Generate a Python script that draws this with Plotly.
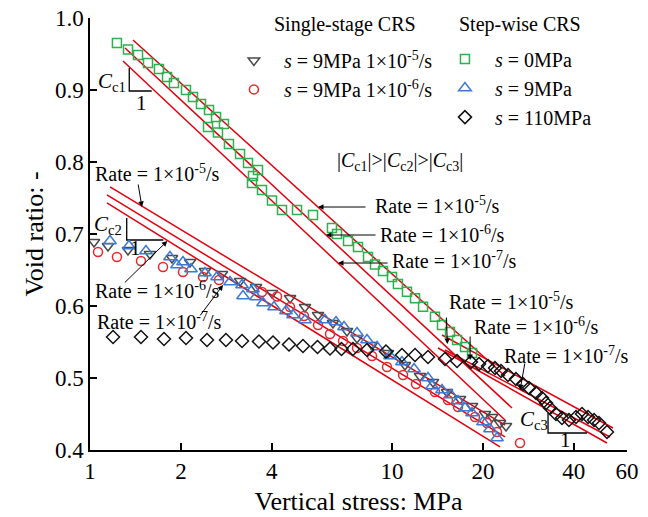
import numpy as np
import plotly.graph_objects as go

FONT = "Liberation Serif"

# ---- measured e-log(sigma) data (vertical stress in MPa, void ratio) ----
# Single-stage CRS, s = 9 MPa, 1e-5/s
ss5_stress = [1.031, 1.147, 1.336, 1.580, 1.869, 2.144, 2.403, 2.736, 3.139, 3.546,
              4.005, 4.596, 5.151, 5.689, 6.377, 7.096, 7.658, 8.587, 9.700, 11.04,
              12.38, 13.67, 15.21, 16.80, 18.41, 20.32, 21.44, 22.79, 23.85]
ss5_void = [0.6889, 0.6833, 0.6778, 0.6722, 0.6667, 0.6611, 0.6486, 0.6444, 0.6347, 0.6264,
            0.6181, 0.6111, 0.5986, 0.5875, 0.5764, 0.5653, 0.5556, 0.5458, 0.5347, 0.5181,
            0.5028, 0.4944, 0.4806, 0.4708, 0.4611, 0.4500, 0.4458, 0.4375, 0.4333]

# Single-stage CRS, s = 9 MPa, 1e-6/s
ss6_stress = [1.063, 1.228, 1.475, 1.745, 2.032, 2.367, 2.674, 3.711, 4.161, 4.596,
              5.112, 5.689, 6.233, 6.884, 7.658, 8.587, 9.625, 10.88, 12.01, 13.88,
              15.32, 16.54, 18.83, 20.63, 22.27, 26.54]
ss6_void = [0.6750, 0.6681, 0.6625, 0.6542, 0.6472, 0.6403, 0.6361, 0.6194, 0.6132, 0.5986,
            0.5861, 0.5736, 0.5611, 0.5514, 0.5417, 0.5306, 0.5153, 0.5042, 0.4917, 0.4806,
            0.4694, 0.4597, 0.4458, 0.4375, 0.4250, 0.4097]

# Step-wise CRS, s = 0 MPa
sw0_stress = [1.228, 1.336, 1.442, 1.556, 1.692, 1.799, 1.897, 2.079, 2.193, 2.331,
              2.478, 2.614, 2.777, 2.459, 2.653, 2.885, 3.139, 3.336, 3.600, 3.465,
              3.439, 3.711, 4.005, 4.323, 4.847, 5.475, 6.328, 6.575, 7.152, 7.717,
              8.329, 8.785, 9.338, 10.00, 10.46, 11.21, 11.92, 12.67, 13.88, 14.64,
              15.56, 16.42, 17.45, 18.41]
sw0_void = [0.9653, 0.9563, 0.9486, 0.9375, 0.9292, 0.9181, 0.9097, 0.9000, 0.8903, 0.8806,
            0.8722, 0.8625, 0.8528, 0.8486, 0.8410, 0.8250, 0.8111, 0.7986, 0.7889, 0.7806,
            0.7708, 0.7611, 0.7465, 0.7333, 0.7333, 0.7264, 0.7083, 0.7000, 0.6903, 0.6819,
            0.6681, 0.6576, 0.6486, 0.6403, 0.6306, 0.6199, 0.6107, 0.5990, 0.5851, 0.5736,
            0.5639, 0.5528, 0.5431, 0.5347]

# Step-wise CRS, s = 9 MPa
sw9_stress = [1.165, 1.346, 1.532, 1.840, 1.941, 2.032, 2.160, 2.403, 2.634, 2.908,
              3.187, 3.211, 3.465, 3.546, 3.740, 4.067, 4.457, 4.701, 5.151, 5.999,
              6.525, 6.935, 7.658, 8.266, 8.920, 9.849, 10.79, 11.83, 13.16, 13.57,
              14.64, 15.68, 16.54, 17.45, 18.41, 20.01, 21.11, 22.27]
sw9_void = [0.6903, 0.6833, 0.6764, 0.6681, 0.6569, 0.6611, 0.6514, 0.6458, 0.6403, 0.6333,
            0.6292, 0.6139, 0.6236, 0.6125, 0.6042, 0.5986, 0.5931, 0.5875, 0.5806, 0.5806,
            0.5778, 0.5708, 0.5625, 0.5528, 0.5431, 0.5306, 0.5222, 0.5125, 0.5000, 0.4889,
            0.4833, 0.4764, 0.4681, 0.4583, 0.4514, 0.4389, 0.4292, 0.4167]

# Step-wise CRS, s = 110 MPa
sw110_stress = [1.192, 1.475, 1.758, 2.079, 2.440, 2.820, 3.187, 3.627, 4.036, 4.560,
                5.073, 5.667, 6.233, 6.804, 7.427, 8.266, 9.552, 10.79, 11.92, 13.16,
                14.98, 16.42, 18.26, 19.42, 20.79, 21.93, 22.96, 24.22, 25.73, 27.15,
                28.42, 29.99, 31.39, 32.36, 33.36, 34.91, 36.55, 38.55, 40.68, 42.58,
                44.57, 46.66, 48.46, 51.51]
sw110_void = [0.5569, 0.5569, 0.5542, 0.5556, 0.5528, 0.5528, 0.5514, 0.5507, 0.5493, 0.5465,
              0.5444, 0.5431, 0.5410, 0.5403, 0.5403, 0.5389, 0.5368, 0.5319, 0.5319, 0.5292,
              0.5264, 0.5236, 0.5222, 0.5194, 0.5167, 0.5139, 0.5097, 0.5042, 0.4986, 0.4917,
              0.4861, 0.4792, 0.4722, 0.4653, 0.4583, 0.4500, 0.4444, 0.4417, 0.4458, 0.4500,
              0.4458, 0.4417, 0.4375, 0.4250]

# ---- compression lines for each rate: (stress start, stress end, e start, e end) ----
cc1_lines = {"1e-5": (1.388, 23.67, 0.9694, 0.5028),
             "1e-6": (1.306, 24.97, 0.9583, 0.4583),
             "1e-7": (1.286, 23.67, 0.9403, 0.4417)}
cc2_lines = {"1e-5": (1.165, 23.67, 0.7653, 0.4347),
             "1e-6": (1.138, 23.67, 0.7542, 0.4181),
             "1e-7": (1.138, 22.79, 0.7431, 0.4042)}
cc3_lines = {"1e-5": (14.64, 53.93, 0.5597, 0.4306),
             "1e-6": (14.98, 52.72, 0.5389, 0.4181),
             "1e-7": (14.20, 51.51, 0.5417, 0.4097)}

# slope triangles: (stress left, stress right, e top, e bottom)
tri_cc1 = (1.349, 1.601, 0.9306, 0.8986)
tri_cc2 = (1.323, 1.749, 0.7222, 0.6917)
tri_cc3 = (32.86, 44.23, 0.4514, 0.4236)

# arrow tips on the rate lines (stress, e) and tail offsets in px
rate_arrows = [
    ("1e-5", 5.689, 0.7375, 49, 0), ("1e-6", 6.046, 0.6986, 51, 0), ("1e-7", 6.626, 0.6597, 51, 0),
    ("1e-5", 1.486, 0.7375, -4, -24), ("1e-6", 1.803, 0.6903, -44, 43), ("1e-7", 2.757, 0.6292, -24, 32),
    ("1e-5", 15.25, 0.5472, -1, -28), ("1e-6", 18.14, 0.5250, 0, -25), ("1e-7", 26.55, 0.4833, 5, -28),
]
# rate label positions (paper x of left edge, paper y)
rate_labels = [
    ("1e-5", 0.527, 0.566), ("1e-6", 0.536, 0.501), ("1e-7", 0.559, 0.439),
    ("1e-5", 0.006, 0.642), ("1e-6", 0.006, 0.371), ("1e-7", 0.010, 0.299),
    ("1e-5", 0.665, 0.346), ("1e-6", 0.711, 0.288), ("1e-7", 0.767, 0.219),
]

x_ticks = [1, 2, 4, 10, 20, 40, 60]
y_ticks = [0.4, 0.5, 0.6, 0.7, 0.8, 0.9, 1.0]

RED_LINE = "#e3000f"


def rate_text(key):
    exp = key.split("e")[1]
    return "Rate = 1×10<sup>%s</sup>/s" % exp


fig = go.Figure()

for group in (cc1_lines, cc2_lines, cc3_lines):
    for key, (s0, s1, e0, e1) in group.items():
        fig.add_trace(go.Scatter(x=[s0, s1], y=[e0, e1], mode="lines",
                                 line=dict(color=RED_LINE, width=1.5),
                                 showlegend=False, hoverinfo="skip"))

for (sl, sr, et, eb) in (tri_cc1, tri_cc2, tri_cc3):
    fig.add_trace(go.Scatter(x=[sl, sl, sr], y=[et, eb, eb], mode="lines",
                             line=dict(color="black", width=1.3),
                             showlegend=False, hoverinfo="skip"))

series = [
    (ss5_stress, ss5_void, "<i>s</i> = 9MPa 1×10<sup>-5</sup>/s", "triangle-down-open", "#4a4a4a", 10, "legend"),
    (ss6_stress, ss6_void, "<i>s</i> = 9MPa 1×10<sup>-6</sup>/s", "circle-open", "#e8262b", 9, "legend"),
    (sw0_stress, sw0_void, "<i>s</i> = 0MPa", "square-open", "#2fb04f", 9, "legend2"),
    (sw9_stress, sw9_void, "<i>s</i> = 9MPa", "triangle-up-open", "#3b7bd6", 11, "legend2"),
    (sw110_stress, sw110_void, "<i>s</i> = 110MPa", "diamond-open", "#111111", 10, "legend2"),
]
for xs, ys, name, sym, col, size, leg in series:
    fig.add_trace(go.Scatter(x=xs, y=ys, mode="markers", name="&nbsp;&nbsp;" + name,
                             marker=dict(symbol=sym, size=size, color=col,
                                         line=dict(color=col, width=1.5)),
                             legend=leg))

annotations = []
for key, sx, ey, ax, ay in rate_arrows:
    annotations.append(dict(x=np.log10(sx), y=ey, xref="x", yref="y", text="",
                            showarrow=True, ax=ax, ay=ay, arrowhead=2, arrowsize=1.1,
                            arrowwidth=1, arrowcolor="black"))
for key, px, py in rate_labels:
    annotations.append(dict(x=px, y=py, xref="paper", yref="paper", text=rate_text(key),
                            showarrow=False, xanchor="left", yanchor="middle",
                            font=dict(family=FONT, size=20, color="black")))

texts = [
    ("Single-stage CRS", 0.339, 0.986, "left", 20),
    ("Step-wise CRS", 0.683, 0.986, "left", 20),
    ("|<i>C</i><sub>c1</sub>|>|<i>C</i><sub>c2</sub>|>|<i>C</i><sub>c3</sub>|", 0.456, 0.667, "left", 20),
    ("<i>C</i><sub>c1</sub>", 0.041, 0.852, "center", 21),
    ("1", 0.096, 0.803, "center", 21),
    ("<i>C</i><sub>c2</sub>", 0.034, 0.521, "center", 21),
    ("1", 0.084, 0.467, "center", 21),
    ("<i>C</i><sub>c3</sub>", 0.827, 0.070, "center", 21),
    ("1", 0.886, 0.022, "center", 21),
]
for txt, px, py, anchor, size in texts:
    annotations.append(dict(x=px, y=py, xref="paper", yref="paper", text=txt,
                            showarrow=False, xanchor=anchor, yanchor="middle",
                            font=dict(family=FONT, size=size, color="black")))

axis_common = dict(showline=True, linecolor="black", linewidth=1.5, mirror=False,
                   ticks="inside", ticklen=7, tickwidth=1.5, tickcolor="black",
                   showgrid=False, zeroline=False, automargin=False,
                   tickfont=dict(family=FONT, size=23, color="black"))

fig.update_layout(
    width=648, height=517,
    margin=dict(l=90, r=21, t=18, b=67),
    paper_bgcolor="white", plot_bgcolor="white",
    xaxis=dict(type="log", range=[0, np.log10(60)], tickvals=x_ticks,
               ticktext=[str(v) for v in x_ticks],
               title=dict(text="Vertical stress: MPa", standoff=8,
                          font=dict(family=FONT, size=26, color="black")),
               **axis_common),
    yaxis=dict(range=[0.4, 1.0], tickvals=y_ticks, ticktext=["%.1f" % v for v in y_ticks],
               title=dict(text="Void ratio: -", standoff=4,
                          font=dict(family=FONT, size=26, color="black")),
               **axis_common),
    legend=dict(x=0.268, y=0.947, xanchor="left", yanchor="top", bgcolor="rgba(0,0,0,0)",
                font=dict(family=FONT, size=20, color="black"), tracegroupgap=0),
    legend2=dict(x=0.661, y=0.950, xanchor="left", yanchor="top", bgcolor="rgba(0,0,0,0)",
                 font=dict(family=FONT, size=20, color="black"), tracegroupgap=0),
    annotations=annotations,
    showlegend=True,
)

fig.write_html("out.html")
